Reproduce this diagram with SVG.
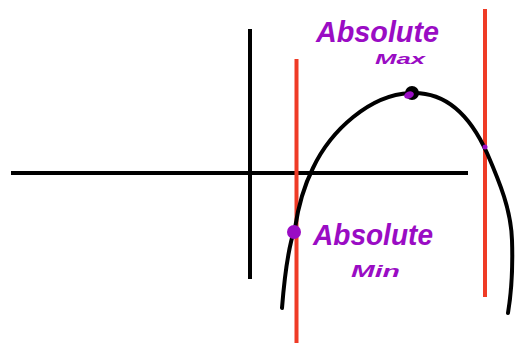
<svg xmlns="http://www.w3.org/2000/svg" width="519" height="345" viewBox="0 0 519 345">
<style>
.ax{stroke:#000;stroke-width:4;stroke-linecap:butt;fill:none}
.red{stroke:#ef3b26;stroke-width:4;fill:none}
.curve{stroke:#000;stroke-width:4;fill:none;stroke-linecap:round;stroke-linejoin:round}
.lbl{fill:#9a0cc4;font-family:"Liberation Sans",Arial,sans-serif;font-weight:bold;font-style:italic}
</style>
<rect width="519" height="345" fill="#fff"/>
<g id="axes">
<line class="ax" x1="11" y1="173" x2="468" y2="173"/>
<line class="ax" x1="250" y1="29" x2="250" y2="279"/>
</g>
<g id="bounds">
<line class="red" x1="296.5" y1="59" x2="296.5" y2="343"/>
<line class="red" x1="485" y1="9" x2="485" y2="297"/>
</g>
<g id="connectors">
<path class="curve" d="M282 308 C285 270 289 245 295 228 C298 208 303 188 313 168 C331 130 370 95 410 93 C445 91 470 115 487 153 C500 183 511 210 512 240 C513 270 511 295 508 313"/>
</g>
<g id="max-point">
<circle cx="412" cy="93" r="7" fill="#000"/>
<ellipse cx="409" cy="95" rx="5" ry="3.5" fill="#9a0cc4" transform="rotate(-20 409 95)"/>
</g>
<g id="min-point">
<circle cx="294" cy="232" r="7" fill="#9a0cc4"/>
</g>
<g id="end-point">
<circle cx="485" cy="147" r="2.5" fill="#9a0cc4"/>
</g>
<g id="label-max">
<text class="lbl" x="316" y="42" font-size="30" textLength="123" lengthAdjust="spacingAndGlyphs">Absolute</text>
<text class="lbl" x="375" y="64" font-size="15" textLength="50" lengthAdjust="spacingAndGlyphs">Max</text>
</g>
<g id="label-min">
<text class="lbl" x="313" y="245" font-size="30" textLength="120" lengthAdjust="spacingAndGlyphs">Absolute</text>
<text class="lbl" x="351" y="277" font-size="16" textLength="49" lengthAdjust="spacingAndGlyphs">Min</text>
</g>
</svg>
